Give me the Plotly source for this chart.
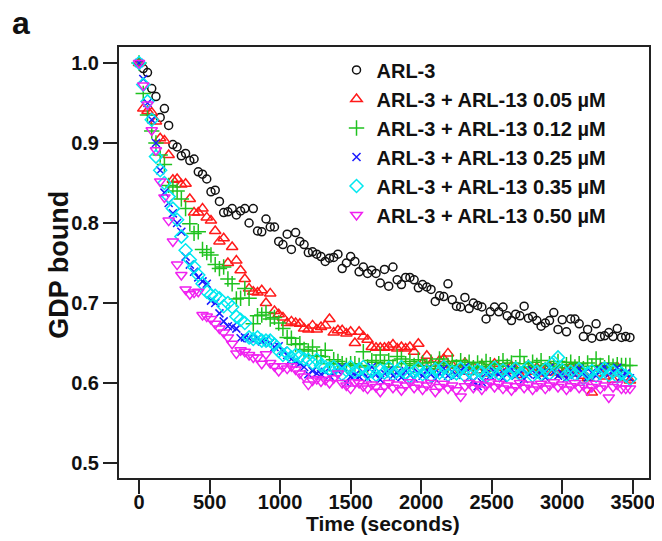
import plotly.graph_objects as go

# time points (seconds), one reading every 30 s
time_s = list(range(0, 3510, 30))

arl3 = [1.000, 0.993, 0.988, 0.968, 0.958, 0.932, 0.943, 0.922, 0.898, 0.895,
        0.884, 0.887, 0.878, 0.880, 0.864, 0.861, 0.855, 0.839, 0.841, 0.827,
        0.813, 0.814, 0.818, 0.810, 0.815, 0.818, 0.800, 0.818, 0.790, 0.789,
        0.805, 0.795, 0.795, 0.777, 0.773, 0.786, 0.767, 0.788, 0.777, 0.773,
        0.763, 0.764, 0.761, 0.758, 0.752, 0.756, 0.757, 0.761, 0.743, 0.750,
        0.758, 0.752, 0.739, 0.745, 0.737, 0.741, 0.737, 0.725, 0.742, 0.721,
        0.745, 0.729, 0.723, 0.732, 0.732, 0.729, 0.719, 0.723, 0.720, 0.717,
        0.702, 0.709, 0.708, 0.724, 0.704, 0.696, 0.695, 0.707, 0.693, 0.700,
        0.697, 0.695, 0.680, 0.689, 0.695, 0.689, 0.695, 0.684, 0.678, 0.686,
        0.684, 0.696, 0.681, 0.683, 0.678, 0.671, 0.675, 0.678, 0.688, 0.667,
        0.679, 0.664, 0.680, 0.680, 0.674, 0.658, 0.667, 0.656, 0.674, 0.658,
        0.659, 0.663, 0.658, 0.668, 0.657, 0.658, 0.657]

arl13_005 = [1.000, 0.943, 0.940, 0.938, 0.927, 0.906, 0.903, 0.885, 0.854, 0.855,
             0.848, 0.849, 0.830, 0.813, 0.813, 0.818, 0.807, 0.803, 0.790, 0.777,
             0.781, 0.750, 0.770, 0.753, 0.741, 0.730, 0.718, 0.714, 0.713, 0.716,
             0.700, 0.712, 0.690, 0.686, 0.682, 0.675, 0.677, 0.675, 0.674, 0.668,
             0.667, 0.672, 0.667, 0.670, 0.672, 0.680, 0.663, 0.666, 0.666, 0.662,
             0.664, 0.650, 0.664, 0.658, 0.654, 0.645, 0.644, 0.644, 0.644, 0.645,
             0.648, 0.643, 0.645, 0.643, 0.645, 0.639, 0.649, 0.625, 0.634, 0.624,
             0.620, 0.628, 0.630, 0.637, 0.622, 0.615, 0.618, 0.625, 0.614, 0.620,
             0.616, 0.622, 0.612, 0.618, 0.624, 0.613, 0.619, 0.615, 0.621, 0.617,
             0.610, 0.616, 0.622, 0.614, 0.619, 0.612, 0.617, 0.621, 0.613, 0.618,
             0.611, 0.616, 0.620, 0.612, 0.617, 0.609, 0.606, 0.588, 0.612, 0.618,
             0.608, 0.613, 0.604, 0.620, 0.612, 0.606, 0.603]

arl13_012 = [1.000, 0.962, 0.935, 0.915, 0.900, 0.885, 0.873, 0.847, 0.845, 0.840,
             0.830, 0.818, 0.799, 0.787, 0.789, 0.767, 0.763, 0.760, 0.748, 0.743,
             0.745, 0.730, 0.724, 0.705, 0.706, 0.718, 0.706, 0.674, 0.684, 0.685,
             0.688, 0.680, 0.682, 0.675, 0.668, 0.657, 0.656, 0.648, 0.649, 0.642,
             0.640, 0.645, 0.634, 0.633, 0.641, 0.624, 0.629, 0.627, 0.624, 0.622,
             0.624, 0.624, 0.622, 0.639, 0.620, 0.628, 0.626, 0.635, 0.624, 0.628,
             0.620, 0.633, 0.630, 0.624, 0.627, 0.622, 0.629, 0.625, 0.621, 0.626,
             0.618, 0.630, 0.624, 0.622, 0.627, 0.620, 0.628, 0.623, 0.626, 0.619,
             0.625, 0.621, 0.627, 0.623, 0.618, 0.624, 0.628, 0.621, 0.625, 0.619,
             0.633, 0.624, 0.620, 0.626, 0.622, 0.628, 0.617, 0.624, 0.621, 0.627,
             0.619, 0.623, 0.626, 0.620, 0.624, 0.618, 0.625, 0.621, 0.630, 0.622,
             0.619, 0.625, 0.621, 0.623, 0.622, 0.622, 0.622]

arl13_025 = [1.000, 0.980, 0.950, 0.929, 0.900, 0.866, 0.838, 0.825, 0.812, 0.800,
             0.789, 0.758, 0.748, 0.739, 0.732, 0.727, 0.724, 0.703, 0.700, 0.687,
             0.677, 0.671, 0.670, 0.668, 0.656, 0.657, 0.656, 0.654, 0.656, 0.652,
             0.654, 0.650, 0.645, 0.646, 0.640, 0.635, 0.630, 0.627, 0.624, 0.620,
             0.611, 0.615, 0.612, 0.611, 0.614, 0.609, 0.612, 0.615, 0.620, 0.600,
             0.608, 0.610, 0.608, 0.613, 0.606, 0.620, 0.611, 0.604, 0.612, 0.616,
             0.609, 0.613, 0.607, 0.615, 0.610, 0.606, 0.613, 0.609, 0.616, 0.611,
             0.605, 0.612, 0.618, 0.609, 0.614, 0.610, 0.616, 0.620, 0.607, 0.603,
             0.596, 0.601, 0.612, 0.609, 0.614, 0.611, 0.606, 0.613, 0.617, 0.609,
             0.612, 0.605, 0.611, 0.616, 0.610, 0.613, 0.607, 0.619, 0.614, 0.609,
             0.612, 0.606, 0.615, 0.610, 0.618, 0.612, 0.607, 0.613, 0.609, 0.616,
             0.620, 0.611, 0.614, 0.619, 0.608, 0.612, 0.606]

arl13_035 = [1.000, 0.973, 0.952, 0.929, 0.883, 0.866, 0.850, 0.833, 0.818, 0.804,
             0.783, 0.766, 0.754, 0.745, 0.735, 0.724, 0.714, 0.710, 0.709, 0.706,
             0.696, 0.700, 0.695, 0.683, 0.679, 0.675, 0.657, 0.655, 0.657, 0.653,
             0.653, 0.653, 0.648, 0.640, 0.635, 0.637, 0.632, 0.635, 0.633, 0.630,
             0.629, 0.625, 0.629, 0.622, 0.620, 0.618, 0.620, 0.615, 0.611, 0.616,
             0.620, 0.614, 0.617, 0.620, 0.612, 0.615, 0.610, 0.616, 0.613, 0.619,
             0.611, 0.615, 0.620, 0.612, 0.608, 0.614, 0.618, 0.611, 0.615, 0.609,
             0.617, 0.613, 0.620, 0.610, 0.614, 0.612, 0.618, 0.609, 0.615, 0.611,
             0.616, 0.613, 0.608, 0.614, 0.619, 0.612, 0.616, 0.610, 0.613, 0.618,
             0.611, 0.615, 0.620, 0.609, 0.614, 0.611, 0.617, 0.612, 0.626, 0.632,
             0.616, 0.610, 0.614, 0.611, 0.617, 0.606, 0.612, 0.615, 0.609, 0.613,
             0.618, 0.610, 0.614, 0.608, 0.612, 0.609, 0.605]

arl13_050 = [1.000, 0.972, 0.948, 0.916, 0.891, 0.852, 0.832, 0.803, 0.777, 0.748,
             0.735, 0.717, 0.711, 0.713, 0.714, 0.685, 0.683, 0.680, 0.674, 0.668,
             0.663, 0.657, 0.649, 0.637, 0.641, 0.639, 0.635, 0.632, 0.632, 0.624,
             0.636, 0.625, 0.621, 0.615, 0.621, 0.618, 0.621, 0.617, 0.612, 0.608,
             0.598, 0.603, 0.605, 0.602, 0.604, 0.600, 0.606, 0.612, 0.600, 0.597,
             0.593, 0.601, 0.600, 0.596, 0.593, 0.598, 0.595, 0.589, 0.596, 0.600,
             0.594, 0.598, 0.591, 0.597, 0.601, 0.594, 0.598, 0.592, 0.597, 0.600,
             0.589, 0.595, 0.599, 0.593, 0.597, 0.591, 0.583, 0.596, 0.600, 0.594,
             0.598, 0.592, 0.597, 0.601, 0.595, 0.599, 0.593, 0.597, 0.591, 0.596,
             0.600, 0.594, 0.598, 0.592, 0.596, 0.599, 0.593, 0.597, 0.601, 0.595,
             0.598, 0.592, 0.596, 0.600, 0.594, 0.597, 0.591, 0.595, 0.599, 0.593,
             0.597, 0.582, 0.595, 0.598, 0.593, 0.593, 0.593]

series_names = ["ARL-3",
                "ARL-3 + ARL-13 0.05 \u00b5M",
                "ARL-3 + ARL-13 0.12 \u00b5M",
                "ARL-3 + ARL-13 0.25 \u00b5M",
                "ARL-3 + ARL-13 0.35 \u00b5M",
                "ARL-3 + ARL-13 0.50 \u00b5M"]
series_values = [arl3, arl13_005, arl13_012, arl13_025, arl13_035, arl13_050]
colors = ["#111111", "#ff1a1a", "#1fc21f", "#1a1aff", "#00e8f0", "#f020f0"]
symbols = ["circle-open", "triangle-up-open", "cross-thin-open",
           "x-thin-open", "diamond-open", "triangle-down-open"]
sizes = [8, 10, 11, 8, 10, 10]

FONT = "Liberation Sans, Arial, sans-serif"
INK = "#111111"

fig = go.Figure()
for name, vals, col, sym, sz in zip(series_names, series_values, colors, symbols, sizes):
    fig.add_trace(go.Scatter(
        x=time_s, y=vals, mode="markers", name="<b>" + name + "</b>",
        marker=dict(symbol=sym, size=sz, color=col,
                    line=dict(color=col, width=1.5)),
    ))

axis_common = dict(
    showline=True, mirror=True, linecolor="#222222", linewidth=2,
    ticks="outside", ticklen=14, tickwidth=2, tickcolor="#222222",
    showgrid=False, zeroline=False,
    tickfont=dict(family=FONT, size=20, color=INK, weight="bold"),
)

# page body has an 8px margin, so the figure is a bit smaller than the window
fig.update_layout(
    width=654, height=533,
    margin=dict(l=111, r=7, t=39, b=63),
    paper_bgcolor="white", plot_bgcolor="white",
    font=dict(family=FONT, color=INK),
    xaxis=dict(range=[-142, 3615], tickvals=[0, 500, 1000, 1500, 2000, 2500, 3000, 3500],
               ticklabelstandoff=-9, **axis_common),
    yaxis=dict(range=[0.48125, 1.02], tickvals=[0.5, 0.6, 0.7, 0.8, 0.9, 1.0],
               tickformat=".1f", **axis_common),
    legend=dict(x=0.4104, y=0.992, xanchor="left", yanchor="top",
                bgcolor="rgba(0,0,0,0)", borderwidth=0,
                font=dict(family=FONT, size=20, color=INK)),
    annotations=[
        dict(text="<b>Time (seconds)</b>", x=(386 - 119) / 536, y=-(523 - 478) / 431,
             xref="paper", yref="paper", showarrow=False,
             xanchor="center", yanchor="middle",
             font=dict(family=FONT, size=21, color=INK)),
        dict(text="<b>GDP bound</b>", x=(58 - 119) / 536, y=(478 - 265) / 431,
             xref="paper", yref="paper", showarrow=False, textangle=-90,
             xanchor="center", yanchor="middle",
             font=dict(family=FONT, size=27, color=INK)),
        dict(text="<b>a</b>", x=(20 - 119) / 536, y=(478 - 23) / 431,
             xref="paper", yref="paper", showarrow=False,
             xanchor="center", yanchor="middle",
             font=dict(family=FONT, size=32, color=INK)),
    ],
)

fig.write_html("out.html")
